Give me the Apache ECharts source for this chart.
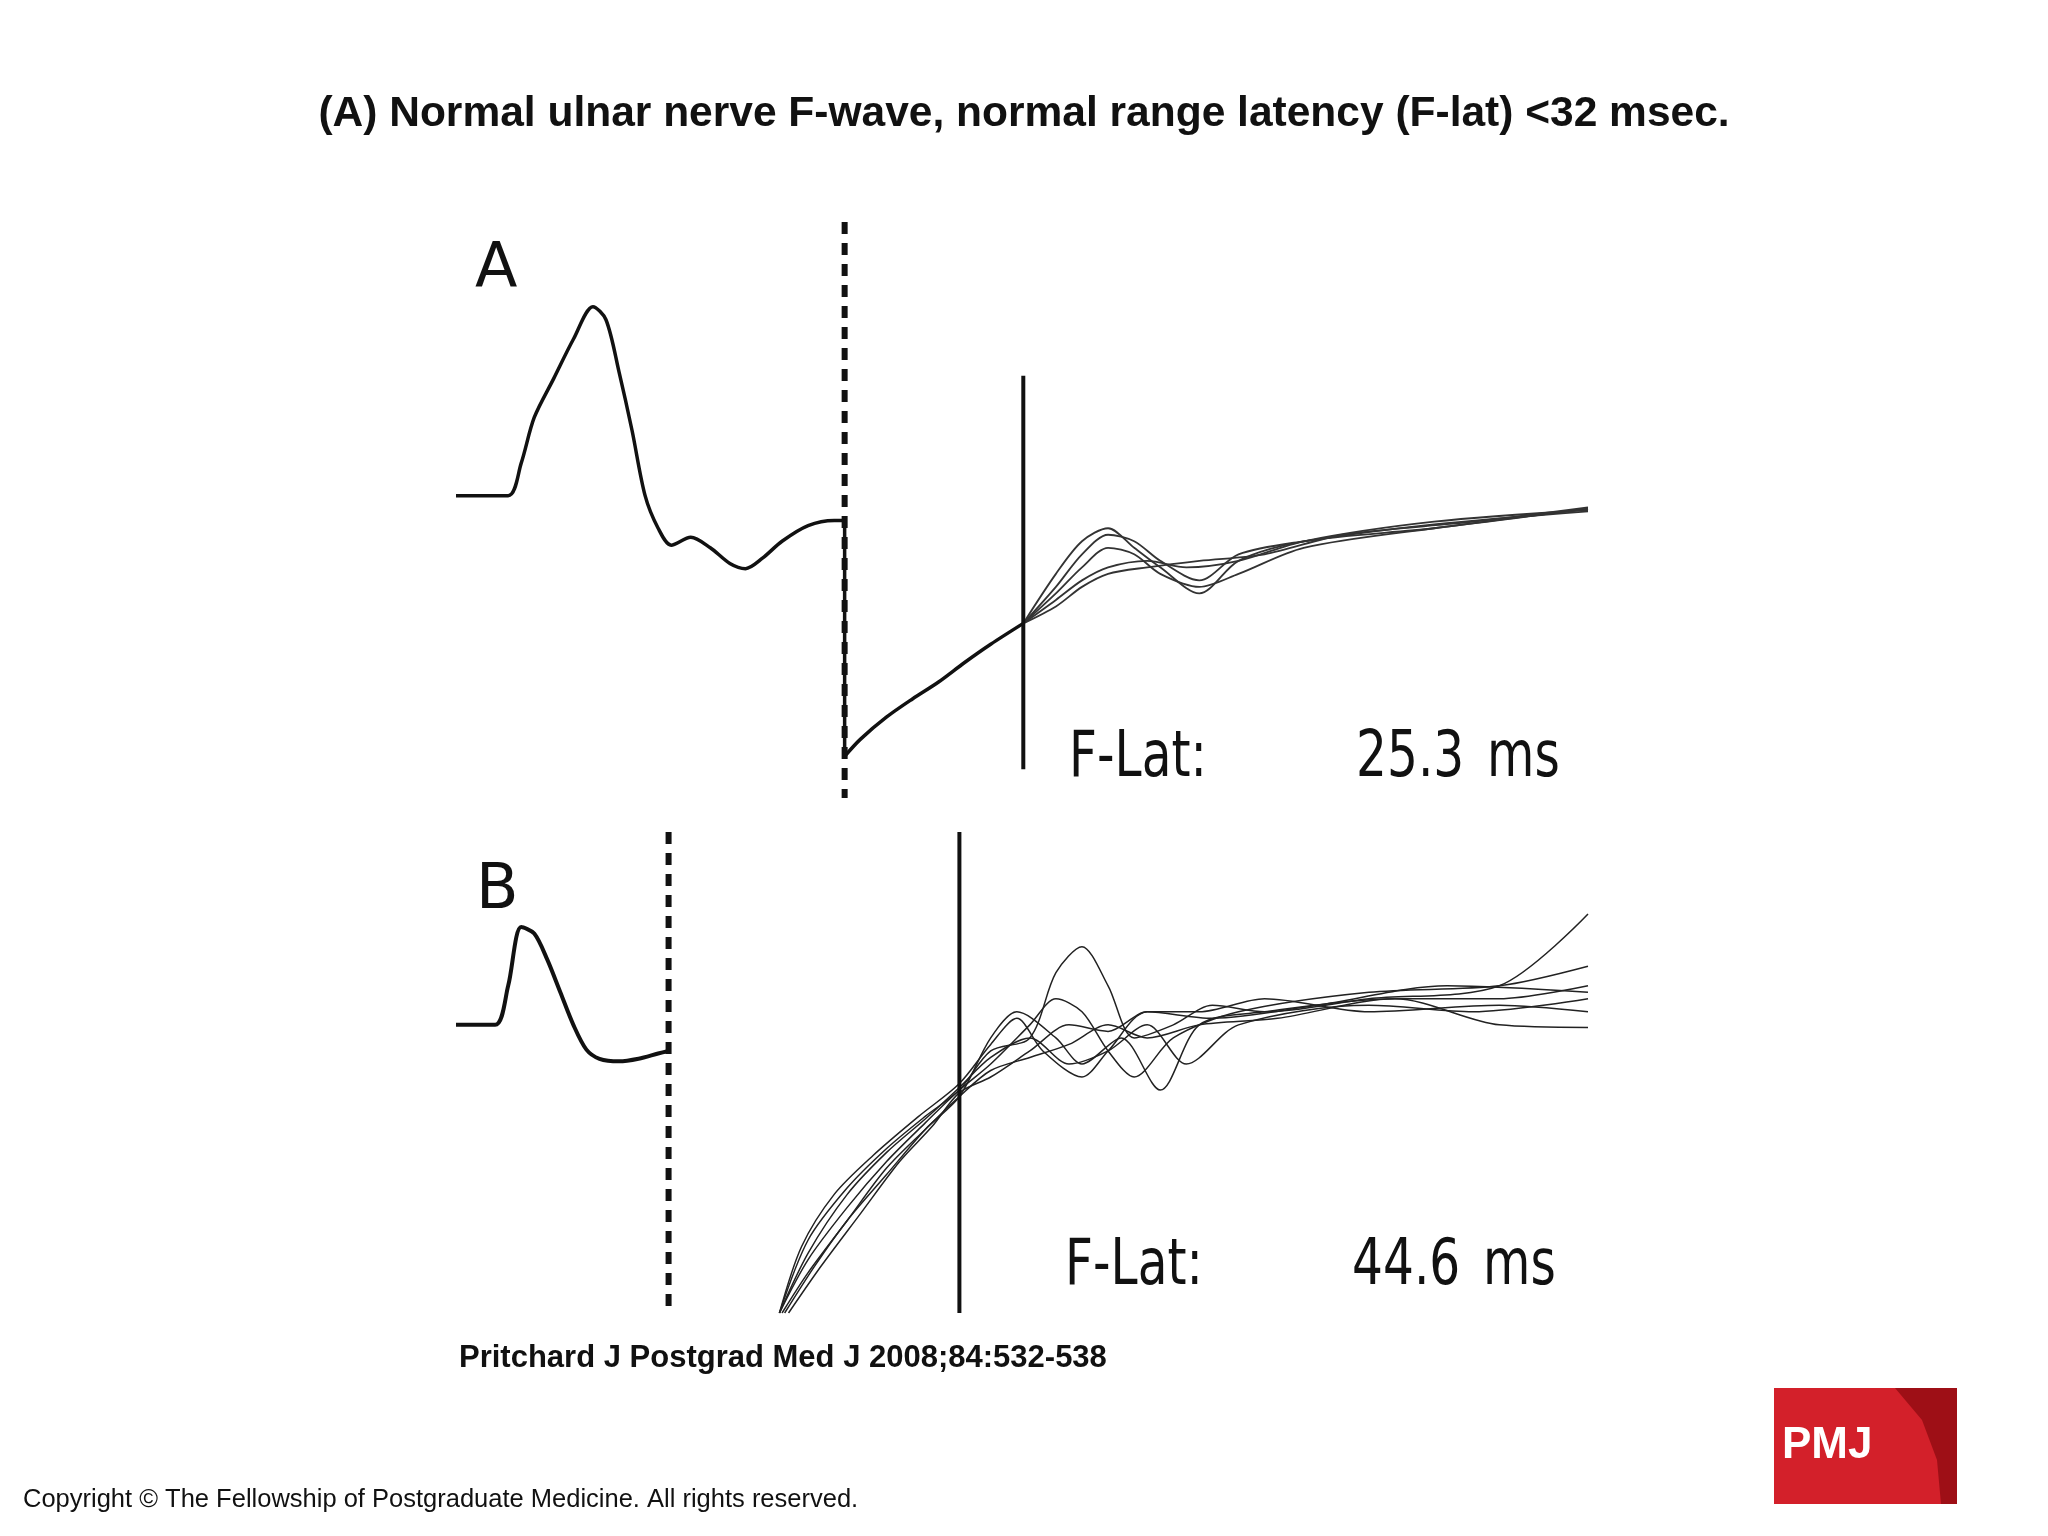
<!DOCTYPE html>
<html><head><meta charset="utf-8">
<script src="https://cdn.jsdelivr.net/npm/echarts@6/dist/echarts.min.js"></script>
<style>html,body{margin:0;background:#fff}#c{width:2048px;height:1536px}</style>
</head><body><div id="c"></div>
<script>
// Panel A (x: time units, y: amplitude units)
const aMain = [[0,0],[4,0],[5,2.5],[6,6],[7.5,9],[9,12],[10.5,14.5],[11.5,13.5],[12.5,9.5],[13.5,5],[14.5,0],[15.5,-2.5],[16.5,-3.8],[18,-3.2],[19.5,-4],[21,-5.2],[22.2,-5.6],[23.5,-4.8],[25,-3.5],[27,-2.3],[29,-1.9],[29.8,-1.9],[29.8,-20],[31,-18.7],[33,-17],[35,-15.6],[37,-14.3],[39,-12.8],[41,-11.4],[43.5,-9.8]];
const aF = [
 [[43.5,-9.8],[46,-6],[48,-3.5],[50,-2.5],[52,-4],[54,-5.5],[57,-7.5],[60,-5],[65,-3.5],[75,-2.5],[86.8,-1]],
 [[43.5,-9.8],[46,-7],[48,-4.5],[50,-3],[52,-3.5],[54,-5],[57,-6.5],[60,-4.5],[65,-3.5],[75,-2.2],[86.8,-1.2]],
 [[43.5,-9.8],[46,-7.5],[48,-5.5],[50,-4],[52,-4.5],[54,-6],[57,-7],[60,-6],[65,-4],[75,-2.5],[86.8,-1]],
 [[43.5,-9.8],[46,-8],[48,-6.5],[50,-5.5],[53,-5],[56,-5.5],[60,-5],[65,-3.5],[75,-2],[86.8,-1.1]],
 [[43.5,-9.8],[46,-8.5],[48,-7],[50,-6],[53,-5.5],[57,-5],[62,-4.5],[68,-3],[78,-2],[86.8,-0.9]]
];
const aDash = [[29.8,21],[29.8,-23.2]];
const aSolid = [[43.5,9.2],[43.5,-21]];
// Panel B
const bMain = [[0,0],[3,0],[4,3],[5,7.5],[6,7],[7,5],[8,2.5],[9,0],[10,-1.9],[11,-2.6],[12.5,-2.8],[14,-2.6],[15.5,-2.2],[16.3,-2]];
const bStarts = [
 [[24.8,-22.1],[27,-16.5],[30,-12.5],[33,-9.5],[36,-7],[38.6,-5]],
 [[24.8,-22.1],[27,-18],[30,-14],[33,-10.5],[36,-7.5],[38.6,-5]],
 [[25.2,-22.1],[27.5,-18.5],[30,-15],[33,-11.5],[36,-8],[38.6,-5.5]],
 [[24.8,-22.1],[27,-17.5],[30,-13],[33,-9.8],[36,-7.2],[38.6,-4.8]],
 [[25.5,-22.1],[28,-18.5],[31,-14.5],[34,-10.5],[36.5,-7.8],[38.6,-5.2]],
 [[25,-22.1],[27,-19],[30,-15],[33,-11],[36,-8],[38.6,-5.5]],
 [[24.8,-22.1],[26.5,-17],[29,-13],[32,-10],[35.5,-7],[38.6,-4.5]]
];
const bF = [
 [[41,-2],[44,-1],[46,4],[48,6],[50,3],[52,-1],[55,0],[58,1.5],[62,1],[70,2],[80,3],[86.8,8.5]],
 [[41,-3],[44,0],[46,2],[48,1],[50,-2],[52,-4],[55,-1],[60,1],[70,2.5],[80,3],[86.8,4.5]],
 [[41,-1],[43,1],[46,-1],[48,-3],[51,-1],[54,-5],[57,0],[62,1],[72,2],[80,2],[86.8,3]],
 [[41,-2.5],[44,-1],[47,-3],[50,-2],[53,0],[56,-3],[60,0],[70,1.5],[78,1],[86.8,2]],
 [[41,-4],[44,-2],[47,0],[50,-0.5],[53,1],[57,1],[62,2],[70,1],[80,1.5],[86.8,1]],
 [[41,-3.5],[44,-2.5],[47,-1.5],[50,0],[53,-1],[57,0],[63,0.5],[72,2],[80,0],[86.8,-0.2]],
 [[41,-1.5],[43,0.5],[45,-2],[48,-4],[50,-2],[53,1],[58,0.5],[66,1.5],[76,3],[86.8,2.5]]
];
const bDash = [[16.3,14.8],[16.3,-22.1]];
const bSolid = [[38.6,14.8],[38.6,-22.1]];
const labels = {a:'25.3', b:'44.6'};

const series = [];
function ln(data, gi, w, color, type){
  series.push({type:'line', xAxisIndex:gi, yAxisIndex:gi, data, symbol:'none', smooth:0.3,
    lineStyle:{width:w, color, type:type||'solid'}, silent:true, animation:false});
}
function lnS(data, gi, w, color, type){
  series.push({type:'line', xAxisIndex:gi, yAxisIndex:gi, data, symbol:'none',
    lineStyle:{width:w, color, type:type||'solid'}, silent:true, animation:false});
}
ln(aMain.slice(0,22),0,3.5,'#111'); lnS(aMain.slice(21,23),0,3.5,'#111'); ln(aMain.slice(22),0,3.5,'#111');
aF.forEach(t=>ln(t,0,1.8,'#333'));
lnS(aDash,0,6,'#111',[12,9]); lnS(aSolid,0,4,'#111');
ln(bMain,1,4,'#111');
bF.forEach((t,i)=>ln(bStarts[i].concat(t),1,1.5,'#222'));
lnS(bDash,1,6,'#111',[12,9]); lnS(bSolid,1,4,'#111');

const ax = (gi,min,max)=>({gridIndex:gi,type:'value',min,max,show:false});
const nf = '"DejaVu Sans",sans-serif';
const txt = (x,y,t,size)=>({type:'text',left:x,top:y,scaleX:0.76,style:{text:t,fontSize:size,fill:'#111',fontFamily:nf}});
const chart = echarts.init(document.getElementById('c'));
chart.setOption({
  backgroundColor:'#fff',
  grid:[{left:456,width:1132,top:222,height:576},{left:456,width:1132,top:828,height:485}],
  xAxis:[ax(0,0,86.8),ax(1,0,86.8)],
  yAxis:[ax(0,-23.2,21),ax(1,-22.1,15.1)],
  series,
  graphic:[
    {type:'text',left:'center',top:93,style:{text:'(A) Normal ulnar nerve F-wave, normal range latency (F-lat) <32 msec.',fontSize:42.5,fontWeight:'bold',fontFamily:'Liberation Sans, Arial',fill:'#111'}},
    {type:'text',left:475,top:240,style:{text:'A',fontSize:62,fill:'#111',fontFamily:nf}},
    {type:'text',left:476,top:861,style:{text:'B',fontSize:62,fill:'#111',fontFamily:nf}},
    txt(1069,727,'F-Lat:',64),
    txt(1356,727,labels.a,64),
    txt(1487,727,'ms',64),
    txt(1065,1235,'F-Lat:',64),
    txt(1352,1235,labels.b,64),
    txt(1483,1235,'ms',64),
    {type:'text',left:459,top:1343,style:{text:'Pritchard J Postgrad Med J 2008;84:532-538',fontSize:31,fontWeight:'bold',fontFamily:'Liberation Sans, Arial',fill:'#111'}},
    {type:'text',left:23,top:1487,style:{text:'Copyright © The Fellowship of Postgraduate Medicine. All rights reserved.',fontSize:25.5,fontFamily:'Liberation Sans, Arial',fill:'#111'}},
    {type:'rect',shape:{x:1774,y:1388,width:183,height:116},style:{fill:'#d3202a'}},
    {type:'polygon',shape:{points:[[1895,1388],[1957,1388],[1957,1504],[1941,1504],[1937,1460],[1922,1420]]},style:{fill:'#9e0f16'}},
    {type:'text',left:1782,top:1424,style:{text:'PMJ',fontSize:44,fontWeight:'bold',fontFamily:'Liberation Sans, Arial',fill:'#fff'}}
  ]
});
</script></body></html>
